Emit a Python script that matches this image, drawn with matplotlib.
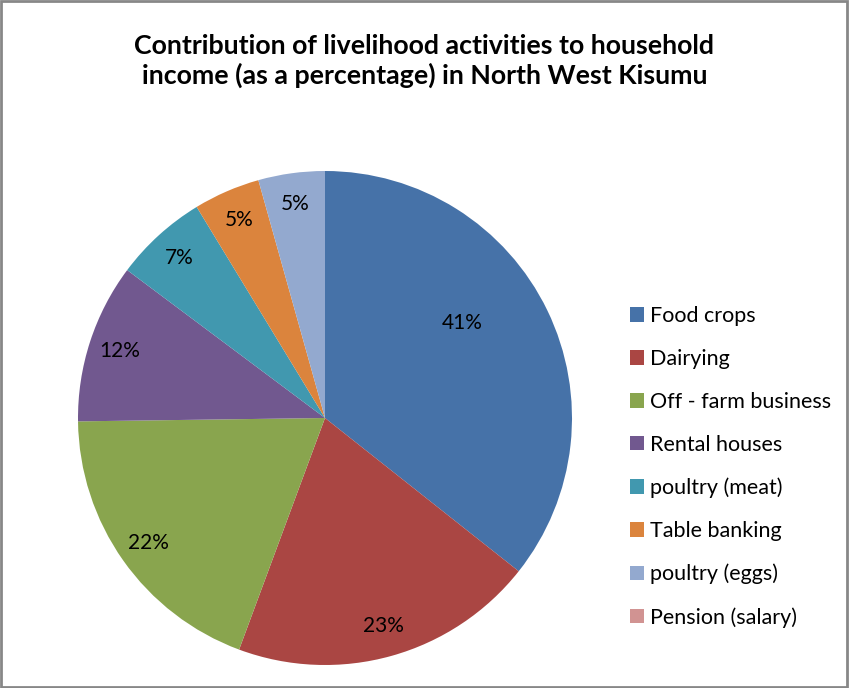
import matplotlib.pyplot as plt
from matplotlib.patches import Rectangle

activities = ['Food crops', 'Dairying', 'Off - farm business', 'Rental houses',
              'poultry (meat)', 'Table banking', 'poultry (eggs)', 'Pension (salary)']
values = [41, 23, 22, 12, 7, 5, 5, 0]
colors = ['#4672A8', '#AA4643', '#89A54E', '#71588F', '#4198AF', '#DB843D',
          '#93A9CF', '#D19392']

plt.rcParams['font.family'] = ['Lato', 'DejaVu Sans']

def pct_label(p):
    # labels show the raw values, the wedges are scaled by the pie
    v = p * sum(values) / 100.0
    return '' if v < 0.5 else '%d%%' % round(v)

W, H = 849, 688
fig = plt.figure(figsize=(W / 100, H / 100), dpi=100)

cx, cy, r = 325, 418, 247
ax = fig.add_axes([(cx - r) / W, (H - cy - r) / H, 2 * r / W, 2 * r / H])
wedges, texts, autotexts = ax.pie(values, colors=colors, startangle=90, counterclock=False,
                                  autopct=pct_label, pctdistance=0.875,
                                  wedgeprops=dict(linewidth=0),
                                  textprops=dict(fontsize=15, color='black'))
ax.set_xlim(-1, 1)
ax.set_ylim(-1, 1)
# Excel's "best fit" pulls the big label inwards
autotexts[0].set_position((137 / r, 95 / r))

fig.text(0.5, 1 - 61 / H,
         'Contribution of livelihood activities to household\nincome (as a percentage) in North West Kisumu',
         ha='center', va='center', fontsize=19.3, fontweight='bold', linespacing=1.22)

fig.legend(wedges, activities, loc='center left', bbox_to_anchor=(619 / W, 1 - 467 / H),
           frameon=False, fontsize=15.5, handlelength=0.65, handleheight=0.65,
           handletextpad=0.3, labelspacing=1.06, borderpad=0)

fig.patches.append(Rectangle((0.001, 0.001), 0.997, 0.997, transform=fig.transFigure,
                             fill=False, edgecolor='#878787', linewidth=2))

fig.savefig('out.png', dpi=100)
